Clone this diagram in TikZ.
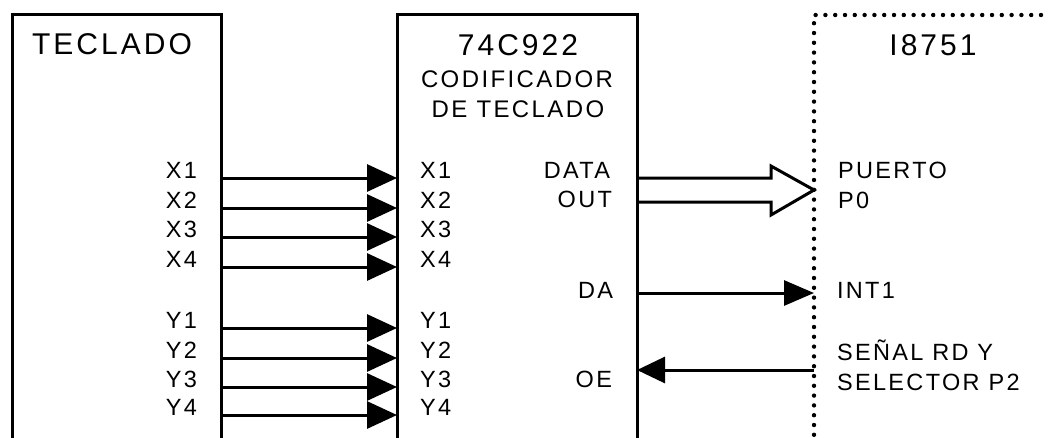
\documentclass[tikz,border=0pt]{standalone}
\usepackage{fontspec}
\setmainfont{Liberation Sans}[LetterSpace=10]
\usetikzlibrary{arrows.meta,calc}
\begin{document}
\begin{tikzpicture}[x=1pt,y=-1pt,
 box/.style={draw, line width=3pt, rectangle, anchor=north west, inner sep=0pt, outer sep=0pt},
 dbox/.style={draw, line width=4.4pt, dash pattern=on 0pt off 9.8pt, line cap=round, rectangle, anchor=north west, inner sep=0pt, outer sep=0pt},
 pin/.style={font=\fontsize{23.5}{27}\selectfont, inner sep=0pt, outer sep=0pt},
 ttl/.style={font=\fontsize{30}{34}\selectfont, inner sep=0pt, outer sep=0pt, anchor=base},
 sub/.style={font=\fontsize{24}{28}\selectfont, inner sep=0pt, outer sep=0pt, anchor=base},
 sig/.style={line width=3pt, -{Triangle[length=30pt,width=27pt]}},
 bus/.style={line width=3pt, line join=miter},
]
\useasboundingbox (0,0) rectangle (1048,437);
\clip (0,0) rectangle (1048,437);
% blocks
\node[box, minimum width=209pt, minimum height=460pt] (tec) at (12,14) {};
\node[box, minimum width=240pt, minimum height=460pt] (enc) at (397,14) {};
\node[dbox, minimum width=300pt, minimum height=460pt] (mcu) at (814,15) {};
% titles
\node[ttl] (ttec) at (112,54) {TECLADO};
\node[ttl] (tenc) at (518,55) {74C922};
\node[sub] (s1) at (517,87) {CODIFICADOR};
\node[sub] (s2) at (518,117) {DE TECLADO};
\node[ttl] (tmcu) at (933,55) {I8751};
% keyboard lines
\foreach \n/\y in {X1/178, X2/208, X3/237, X4/267, Y1/328, Y2/358, Y3/387, Y4/415} {
  \node[pin, anchor=base east] (a\n) at (197,\y) {\n};
  \node[pin, anchor=base west] (b\n) at (420,\y) {\n};
  \draw[sig] (tec.east |- a\n.base) -- (enc.west |- b\n.base);
}
% encoder outputs
\node[pin, anchor=base east] (ldata) at (610,178) {DATA};
\node[pin, anchor=base east] (lout) at (612,207) {OUT};
\node[pin, anchor=base east] (lda) at (613,298) {DA};
\node[pin, anchor=base east] (loe) at (612,387) {OE};
% microcontroller labels
\node[pin, anchor=base west] (lp1) at (838,178) {PUERTO};
\node[pin, anchor=base west] (lp2) at (838,208) {P0};
\node[pin, anchor=base west] (lint) at (837,298) {INT1};
\node[pin, anchor=base west] (ls1) at (837,360) {SEÑAL RD Y};
\node[pin, anchor=base west] (ls2) at (837,390) {SELECTOR P2};
% helper heights
\coordinate (yT) at (0,178);
\coordinate (yB) at (0,202);
\coordinate (yTip) at (0,190);
\coordinate (yDA) at (0,293);
\coordinate (yOE) at (0,370);
% data bus (hollow arrow)
\coordinate (tip) at (mcu.west |- yTip);
\draw[bus] (enc.east |- yT) -- ($(tip)+(-43,-12)$) -- ($(tip)+(-43,-24)$) -- (tip)
  -- ($(tip)+(-43,25)$) -- ($(tip)+(-43,12)$) -- (enc.east |- yB);
% DA -> INT1
\draw[line width=3pt, -{Triangle[length=30pt,width=25pt]}] (enc.east |- yDA) -- (mcu.west |- yDA);
% RD/P2 -> OE
\draw[line width=3pt, -{Triangle[length=28pt,width=26pt]}] (mcu.west |- yOE) -- (enc.east |- yOE);
\end{tikzpicture}
\end{document}
